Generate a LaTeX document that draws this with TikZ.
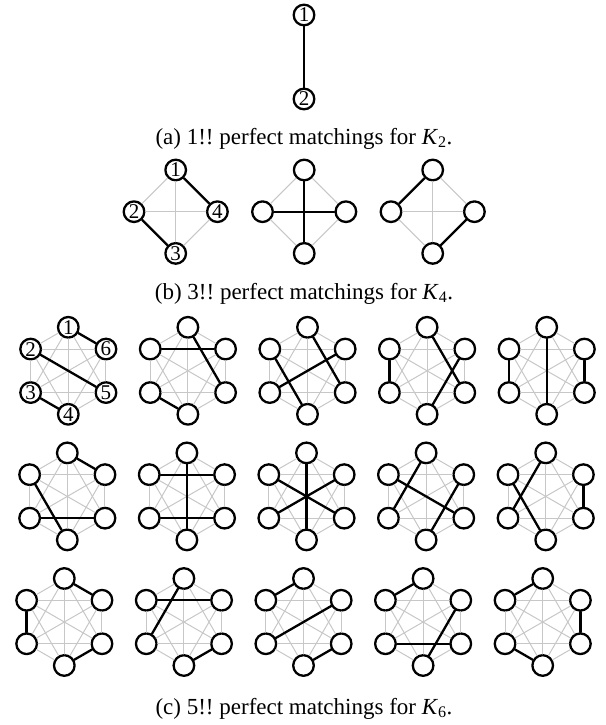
\documentclass[tikz,border=0pt]{standalone}
\usepackage{fontspec}
\setmainfont{Liberation Serif}
\frenchspacing
\tikzset{
  vert/.style={circle,draw,line width=2.3pt,minimum size=20.6pt,inner sep=0pt},
  vlabel/.style={font=\fontsize{21}{21}\selectfont,inner sep=0pt},
  faint/.style={line width=1pt,black!22},
  match/.style={line width=2.3pt,black},
  caption/.style={anchor=base,font=\fontsize{23}{27}\selectfont,inner sep=0pt}
}
\begin{document}
\begin{tikzpicture}[x=1pt,y=-1pt,line cap=round,line join=round]
\useasboundingbox (0,0) rectangle (605,725);
% (a) K_2
\node[vert] (a-1) at (304,15) {};
\node[vert] (a-2) at (304,99) {};
\draw[match] (a-1)--(a-2);
\foreach \k in {1,2} \node[vlabel] at (a-\k) {\k};
\node[caption] (capa) at (304,144) {(a) 1!! perfect matchings for \textit{K}\textsubscript{2}.};
% (b) K_4
\foreach \c/\m in {1/{1/4,2/3},2/{1/3,2/4},3/{1/2,3/4}}{
  \pgfmathsetmacro\cx{175.7+128.5*(\c-1)}
  \begin{scope}[shift={(\cx,211.7)}]
    \foreach \k in {1,...,4} \node[vert] (b\c-\k) at ({-90*\k}:41.7) {};
    \foreach \p in {1,...,3}{
      \pgfmathtruncatemacro\nx{\p+1}
      \foreach \q in {\nx,...,4} \draw[faint] (b\c-\p)--(b\c-\q);
    }
    \foreach \p/\q in \m \draw[match] (b\c-\p)--(b\c-\q);
  \end{scope}
}
\foreach \k in {1,...,4} \node[vlabel] at (b1-\k) {\k};
\node[caption] (capb) at (304,299) {(b) 3!! perfect matchings for \textit{K}\textsubscript{4}.};
% (c) K_6
\foreach \r/\c/\m in {
  1/1/{1/6,2/5,3/4}, 1/2/{2/6,1/5,3/4}, 1/3/{1/5,2/4,3/6}, 1/4/{2/3,1/5,4/6}, 1/5/{2/3,1/4,5/6},
  2/1/{1/6,2/4,3/5}, 2/2/{2/6,1/4,3/5}, 2/3/{1/4,2/5,3/6}, 2/4/{1/3,2/5,4/6}, 2/5/{1/3,2/4,5/6},
  3/1/{1/6,2/3,4/5}, 3/2/{2/6,1/3,4/5}, 3/3/{1/2,3/6,4/5}, 3/4/{1/2,3/5,4/6}, 3/5/{1/2,3/4,5/6}}{
  \pgfmathsetmacro\cx{{68.3,67.3,64.3}[\r-1]+119.6*(\c-1)}
  \pgfmathsetmacro\cy{370.8+125.6*(\r-1)}
  \begin{scope}[shift={(\cx,\cy)}]
    \foreach \k in {1,...,6} \node[vert] (h\r\c-\k) at ({-30-60*\k}:43.5) {};
    \foreach \p in {1,...,5}{
      \pgfmathtruncatemacro\nx{\p+1}
      \foreach \q in {\nx,...,6} \draw[faint] (h\r\c-\p)--(h\r\c-\q);
    }
    \foreach \p/\q in \m \draw[match] (h\r\c-\p)--(h\r\c-\q);
  \end{scope}
}
\foreach \k in {1,...,6} \node[vlabel] at (h11-\k) {\k};
\node[caption] (capc) at (304,714) {(c) 5!! perfect matchings for \textit{K}\textsubscript{6}.};
\end{tikzpicture}
\end{document}
